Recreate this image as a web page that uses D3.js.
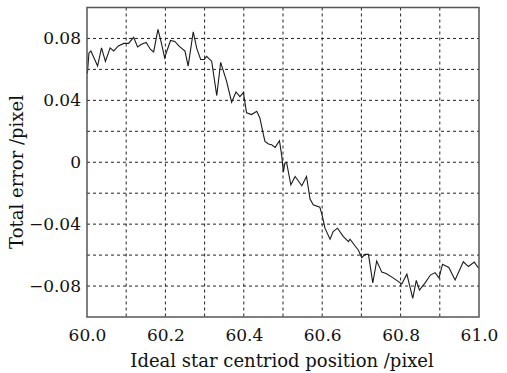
<!DOCTYPE html>
<html>
<head>
<meta charset="utf-8">
<script src="https://cdn.jsdelivr.net/npm/d3@7"></script>
<style>
  body { margin: 0; background: #fff; }
  svg { display: block; }
  text { font-family: "DejaVu Serif", serif; fill: #111; }
</style>
</head>
<body>
<svg id="chart" width="507" height="373"></svg>
<script>
// ideal centroid position (pixel)
const xPos = [
  60.001, 60.005, 60.010, 60.027, 60.037, 60.047, 60.059, 60.068, 60.080, 60.094,
  60.106, 60.119, 60.129, 60.139, 60.151, 60.162, 60.170, 60.181, 60.190, 60.198,
  60.213, 60.224, 60.235, 60.250, 60.258, 60.271, 60.280, 60.290, 60.299, 60.305,
  60.318, 60.331, 60.341, 60.356, 60.369, 60.380, 60.390, 60.399, 60.407, 60.420,
  60.433, 60.441, 60.450, 60.454, 60.463, 60.471, 60.480, 60.491, 60.497, 60.501,
  60.505, 60.509, 60.520, 60.531, 60.548, 60.560, 60.569, 60.577, 60.594, 60.601,
  60.607, 60.620, 60.628, 60.639, 60.654, 60.667, 60.671, 60.684, 60.692, 60.701,
  60.709, 60.718, 60.729, 60.739, 60.752, 60.763, 60.781, 60.803, 60.816, 60.831,
  60.840, 60.848, 60.862, 60.876, 60.888, 60.898, 60.907, 60.923, 60.939, 60.960,
  60.973, 60.988, 60.999
];
// total error (pixel)
const totalError = [
  0.0574, 0.0706, 0.0719, 0.0622, 0.0739, 0.0651, 0.0739, 0.0719, 0.0752, 0.0768,
  0.0768, 0.0807, 0.0745, 0.0762, 0.0774, 0.0729, 0.0713, 0.0859, 0.0768, 0.0675,
  0.0787, 0.0781, 0.0750, 0.0718, 0.0621, 0.0842, 0.0736, 0.0664, 0.0664, 0.0684,
  0.0653, 0.0431, 0.0645, 0.0524, 0.0388, 0.0454, 0.0424, 0.0450, 0.0319, 0.0308,
  0.0329, 0.0286, 0.0178, 0.0135, 0.0118, 0.0113, 0.0096, 0.0139, 0.0038, -0.0062,
  -0.0005, 0.0000, -0.0146, -0.0092, -0.0152, -0.0092, -0.0238, -0.0275, -0.0290, -0.0355,
  -0.0426, -0.0497, -0.0448, -0.0426, -0.0481, -0.0513, -0.0497, -0.0541, -0.0567, -0.0617,
  -0.0595, -0.0595, -0.0779, -0.0638, -0.0710, -0.0719, -0.0747, -0.0787, -0.0723, -0.0880,
  -0.0763, -0.0826, -0.0781, -0.0729, -0.0713, -0.0748, -0.0659, -0.0680, -0.0761, -0.0643,
  -0.0674, -0.0645, -0.0685
];

const xTicks = [60.0, 60.2, 60.4, 60.6, 60.8, 61.0];
const yTicks = [0.08, 0.04, 0, -0.04, -0.08];
const xGrid = d3.range(1, 10).map(i => 60 + i / 10);
const yGrid = d3.range(-4, 5).map(i => i / 50);

const margin = { top: 7.5, right: 28, bottom: 56, left: 87 };
const svg = d3.select("#chart");
const width = 507 - margin.left - margin.right;
const height = 373 - margin.top - margin.bottom;

const x = d3.scaleLinear().domain([60, 61]).range([0, width]);
const y = d3.scaleLinear().domain([-0.1, 0.1]).range([height, 0]);

const g = svg.append("g").attr("transform", `translate(${margin.left},${margin.top})`);

// grid
g.append("g").selectAll("line").data(xGrid).join("line")
  .attr("x1", d => x(d)).attr("x2", d => x(d))
  .attr("y1", 0).attr("y2", height)
  .attr("stroke", "#222").attr("stroke-width", 1).attr("stroke-dasharray", "3,3");
g.append("g").selectAll("line").data(yGrid).join("line")
  .attr("x1", 0).attr("x2", width)
  .attr("y1", d => y(d)).attr("y2", d => y(d))
  .attr("stroke", "#222").attr("stroke-width", 1).attr("stroke-dasharray", "3,3");

// data
const line = d3.line().x((d, i) => x(xPos[i])).y(d => y(d));
g.append("path").datum(totalError)
  .attr("d", line)
  .attr("fill", "none").attr("stroke", "#1a1a1a").attr("stroke-width", 1.1);

// frame
g.append("rect").attr("width", width).attr("height", height)
  .attr("fill", "none").attr("stroke", "#555").attr("stroke-width", 1.5);

// axes
const xAxis = g.append("g").attr("transform", `translate(0,${height})`)
  .call(d3.axisBottom(x).tickValues(xTicks).tickSize(0).tickPadding(12).tickFormat(d3.format(".1f")));
const yAxis = g.append("g")
  .call(d3.axisLeft(y).tickValues(yTicks).tickSize(0).tickPadding(6)
    .tickFormat(d => d === 0 ? "0" : d3.format(".2f")(d)));
[xAxis, yAxis].forEach(a => {
  a.select(".domain").remove();
  a.selectAll("text").style("font-family", "DejaVu Serif").style("font-size", "17px").attr("fill", "#000");
});

// titles
svg.append("text")
  .attr("x", margin.left + width / 2 - 1).attr("y", 367)
  .attr("text-anchor", "middle").style("font-size", "18px").attr("fill", "#000")
  .text("Ideal star centriod position /pixel");
svg.append("text")
  .attr("transform", `translate(23,172) rotate(-90)`)
  .attr("text-anchor", "middle").style("font-size", "18px").attr("fill", "#000")
  .text("Total error /pixel");
</script>
</body>
</html>
